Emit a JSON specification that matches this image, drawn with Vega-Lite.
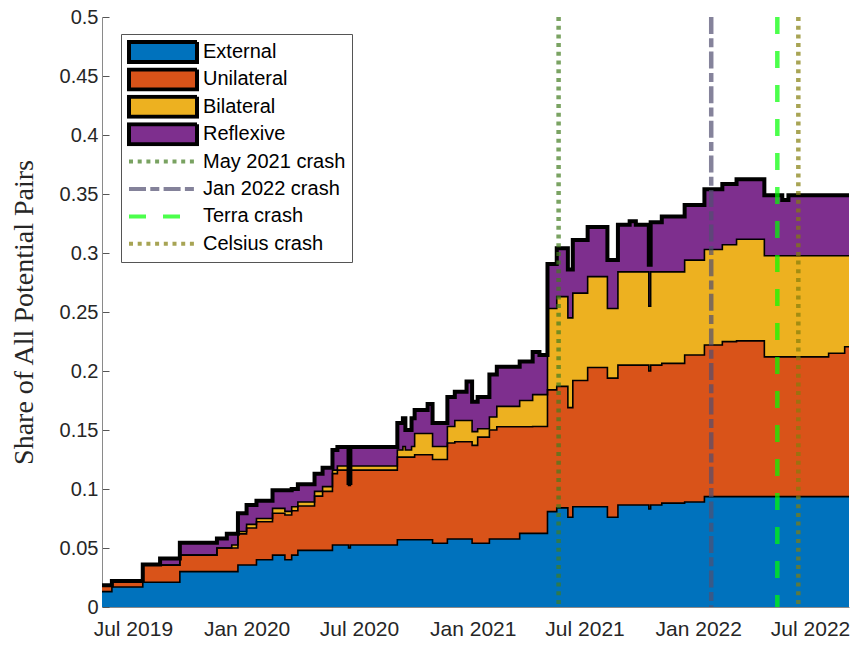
{
  "$schema": "https://vega.github.io/schema/vega-lite/v6.json",
  "width": 747,
  "height": 590,
  "autosize": {"type": "none"},
  "padding": {"left": 102, "top": 17, "right": 8, "bottom": 42},
  "background": "white",
  "config": {
    "view": {"stroke": null},
    "axis": {"grid": false, "labelFont": "Liberation Sans", "labelColor": "#262626", "domainColor": "#8a8a8a", "tickColor": "#555555", "labelOverlap": false, "labelFlush": false}
  },
  "datasets": {
    "shares": [
      {"d":"2019-05-12","s":"External","k":1,"v":0.013},{"d":"2019-05-12","s":"Unilateral","k":2,"v":0.0055},{"d":"2019-05-12","s":"Bilateral","k":3,"v":0},{"d":"2019-05-12","s":"Reflexive","k":4,"v":0},
      {"d":"2019-05-28","s":"External","k":1,"v":0.017},{"d":"2019-05-28","s":"Unilateral","k":2,"v":0.005},{"d":"2019-05-28","s":"Bilateral","k":3,"v":0},{"d":"2019-05-28","s":"Reflexive","k":4,"v":0},
      {"d":"2019-07-17","s":"External","k":1,"v":0.021},{"d":"2019-07-17","s":"Unilateral","k":2,"v":0.015},{"d":"2019-07-17","s":"Bilateral","k":3,"v":0},{"d":"2019-07-17","s":"Reflexive","k":4,"v":0},
      {"d":"2019-08-14","s":"External","k":1,"v":0.021},{"d":"2019-08-14","s":"Unilateral","k":2,"v":0.0145},{"d":"2019-08-14","s":"Bilateral","k":3,"v":0},{"d":"2019-08-14","s":"Reflexive","k":4,"v":0.0055},
      {"d":"2019-09-15","s":"External","k":1,"v":0.030},{"d":"2019-09-15","s":"Unilateral","k":2,"v":0.014},{"d":"2019-09-15","s":"Bilateral","k":3,"v":0},{"d":"2019-09-15","s":"Reflexive","k":4,"v":0.0105},
      {"d":"2019-11-14","s":"External","k":1,"v":0.030},{"d":"2019-11-14","s":"Unilateral","k":2,"v":0.020},{"d":"2019-11-14","s":"Bilateral","k":3,"v":0},{"d":"2019-11-14","s":"Reflexive","k":4,"v":0.008},
      {"d":"2019-11-30","s":"External","k":1,"v":0.030},{"d":"2019-11-30","s":"Unilateral","k":2,"v":0.020},{"d":"2019-11-30","s":"Bilateral","k":3,"v":0},{"d":"2019-11-30","s":"Reflexive","k":4,"v":0.012},
      {"d":"2019-12-08","s":"External","k":1,"v":0.030},{"d":"2019-12-08","s":"Unilateral","k":2,"v":0.020},{"d":"2019-12-08","s":"Bilateral","k":3,"v":0.0025},{"d":"2019-12-08","s":"Reflexive","k":4,"v":0.0095},
      {"d":"2019-12-18","s":"External","k":1,"v":0.0356},{"d":"2019-12-18","s":"Unilateral","k":2,"v":0.0264},{"d":"2019-12-18","s":"Bilateral","k":3,"v":0.002},{"d":"2019-12-18","s":"Reflexive","k":4,"v":0.0155},
      {"d":"2020-01-01","s":"External","k":1,"v":0.0356},{"d":"2020-01-01","s":"Unilateral","k":2,"v":0.0314},{"d":"2020-01-01","s":"Bilateral","k":3,"v":0.003},{"d":"2020-01-01","s":"Reflexive","k":4,"v":0.0164},
      {"d":"2020-01-17","s":"External","k":1,"v":0.040},{"d":"2020-01-17","s":"Unilateral","k":2,"v":0.0323},{"d":"2020-01-17","s":"Bilateral","k":3,"v":0.0027},{"d":"2020-01-17","s":"Reflexive","k":4,"v":0.015},
      {"d":"2020-02-12","s":"External","k":1,"v":0.044},{"d":"2020-02-12","s":"Unilateral","k":2,"v":0.0354},{"d":"2020-02-12","s":"Bilateral","k":3,"v":0.0042},{"d":"2020-02-12","s":"Reflexive","k":4,"v":0.0154},
      {"d":"2020-03-03","s":"External","k":1,"v":0.040},{"d":"2020-03-03","s":"Unilateral","k":2,"v":0.038},{"d":"2020-03-03","s":"Bilateral","k":3,"v":0.003},{"d":"2020-03-03","s":"Reflexive","k":4,"v":0.018},
      {"d":"2020-03-14","s":"External","k":1,"v":0.044},{"d":"2020-03-14","s":"Unilateral","k":2,"v":0.0376},{"d":"2020-03-14","s":"Bilateral","k":3,"v":0.0034},{"d":"2020-03-14","s":"Reflexive","k":4,"v":0.015},
      {"d":"2020-03-24","s":"External","k":1,"v":0.048},{"d":"2020-03-24","s":"Unilateral","k":2,"v":0.0376},{"d":"2020-03-24","s":"Bilateral","k":3,"v":0.0034},{"d":"2020-03-24","s":"Reflexive","k":4,"v":0.015},
      {"d":"2020-04-20","s":"External","k":1,"v":0.048},{"d":"2020-04-20","s":"Unilateral","k":2,"v":0.046},{"d":"2020-04-20","s":"Bilateral","k":3,"v":0.004},{"d":"2020-04-20","s":"Reflexive","k":4,"v":0.015},
      {"d":"2020-05-03","s":"External","k":1,"v":0.048},{"d":"2020-05-03","s":"Unilateral","k":2,"v":0.050},{"d":"2020-05-03","s":"Bilateral","k":3,"v":0.004},{"d":"2020-05-03","s":"Reflexive","k":4,"v":0.016},
      {"d":"2020-05-19","s":"External","k":1,"v":0.0525},{"d":"2020-05-19","s":"Unilateral","k":2,"v":0.0605},{"d":"2020-05-19","s":"Bilateral","k":3,"v":0.003},{"d":"2020-05-19","s":"Reflexive","k":4,"v":0.017},
      {"d":"2020-05-27","s":"External","k":1,"v":0.0525},{"d":"2020-05-27","s":"Unilateral","k":2,"v":0.0635},{"d":"2020-05-27","s":"Bilateral","k":3,"v":0.0035},{"d":"2020-05-27","s":"Reflexive","k":4,"v":0.0161},
      {"d":"2020-06-14","s":"External","k":1,"v":0.050},{"d":"2020-06-14","s":"Unilateral","k":2,"v":0.053},{"d":"2020-06-14","s":"Bilateral","k":3,"v":0.001},{"d":"2020-06-14","s":"Reflexive","k":4,"v":0.001},
      {"d":"2020-06-17","s":"External","k":1,"v":0.0525},{"d":"2020-06-17","s":"Unilateral","k":2,"v":0.0635},{"d":"2020-06-17","s":"Bilateral","k":3,"v":0.0035},{"d":"2020-06-17","s":"Reflexive","k":4,"v":0.0161},
      {"d":"2020-09-01","s":"External","k":1,"v":0.057},{"d":"2020-09-01","s":"Unilateral","k":2,"v":0.070},{"d":"2020-09-01","s":"Bilateral","k":3,"v":0.006},{"d":"2020-09-01","s":"Reflexive","k":4,"v":0.023},
      {"d":"2020-09-10","s":"External","k":1,"v":0.057},{"d":"2020-09-10","s":"Unilateral","k":2,"v":0.070},{"d":"2020-09-10","s":"Bilateral","k":3,"v":0.009},{"d":"2020-09-10","s":"Reflexive","k":4,"v":0.024},
      {"d":"2020-09-14","s":"External","k":1,"v":0.057},{"d":"2020-09-14","s":"Unilateral","k":2,"v":0.070},{"d":"2020-09-14","s":"Bilateral","k":3,"v":0.006},{"d":"2020-09-14","s":"Reflexive","k":4,"v":0.017},
      {"d":"2020-09-24","s":"External","k":1,"v":0.057},{"d":"2020-09-24","s":"Unilateral","k":2,"v":0.070},{"d":"2020-09-24","s":"Bilateral","k":3,"v":0.009},{"d":"2020-09-24","s":"Reflexive","k":4,"v":0.024},
      {"d":"2020-09-29","s":"External","k":1,"v":0.057},{"d":"2020-09-29","s":"Unilateral","k":2,"v":0.072},{"d":"2020-09-29","s":"Bilateral","k":3,"v":0.018},{"d":"2020-09-29","s":"Reflexive","k":4,"v":0.020},
      {"d":"2020-10-20","s":"External","k":1,"v":0.057},{"d":"2020-10-20","s":"Unilateral","k":2,"v":0.072},{"d":"2020-10-20","s":"Bilateral","k":3,"v":0.018},{"d":"2020-10-20","s":"Reflexive","k":4,"v":0.025},
      {"d":"2020-10-28","s":"External","k":1,"v":0.054},{"d":"2020-10-28","s":"Unilateral","k":2,"v":0.071},{"d":"2020-10-28","s":"Bilateral","k":3,"v":0.011},{"d":"2020-10-28","s":"Reflexive","k":4,"v":0.020},
      {"d":"2020-11-21","s":"External","k":1,"v":0.0576},{"d":"2020-11-21","s":"Unilateral","k":2,"v":0.0814},{"d":"2020-11-21","s":"Bilateral","k":3,"v":0.014},{"d":"2020-11-21","s":"Reflexive","k":4,"v":0.025},
      {"d":"2020-12-03","s":"External","k":1,"v":0.0576},{"d":"2020-12-03","s":"Unilateral","k":2,"v":0.0824},{"d":"2020-12-03","s":"Bilateral","k":3,"v":0.018},{"d":"2020-12-03","s":"Reflexive","k":4,"v":0.0245},
      {"d":"2020-12-22","s":"External","k":1,"v":0.0576},{"d":"2020-12-22","s":"Unilateral","k":2,"v":0.0824},{"d":"2020-12-22","s":"Bilateral","k":3,"v":0.018},{"d":"2020-12-22","s":"Reflexive","k":4,"v":0.033},
      {"d":"2020-12-31","s":"External","k":1,"v":0.054},{"d":"2020-12-31","s":"Unilateral","k":2,"v":0.083},{"d":"2020-12-31","s":"Bilateral","k":3,"v":0.0116},{"d":"2020-12-31","s":"Reflexive","k":4,"v":0.0254},
      {"d":"2021-01-09","s":"External","k":1,"v":0.054},{"d":"2021-01-09","s":"Unilateral","k":2,"v":0.090},{"d":"2021-01-09","s":"Bilateral","k":3,"v":0.007},{"d":"2021-01-09","s":"Reflexive","k":4,"v":0.027},
      {"d":"2021-01-28","s":"External","k":1,"v":0.0576},{"d":"2021-01-28","s":"Unilateral","k":2,"v":0.0924},{"d":"2021-01-28","s":"Bilateral","k":3,"v":0.011},{"d":"2021-01-28","s":"Reflexive","k":4,"v":0.036},
      {"d":"2021-02-09","s":"External","k":1,"v":0.0576},{"d":"2021-02-09","s":"Unilateral","k":2,"v":0.0952},{"d":"2021-02-09","s":"Bilateral","k":3,"v":0.0172},{"d":"2021-02-09","s":"Reflexive","k":4,"v":0.0336},
      {"d":"2021-03-18","s":"External","k":1,"v":0.0624},{"d":"2021-03-18","s":"Unilateral","k":2,"v":0.0904},{"d":"2021-03-18","s":"Bilateral","k":3,"v":0.0222},{"d":"2021-03-18","s":"Reflexive","k":4,"v":0.033},
      {"d":"2021-04-08","s":"External","k":1,"v":0.0624},{"d":"2021-04-08","s":"Unilateral","k":2,"v":0.0906},{"d":"2021-04-08","s":"Bilateral","k":3,"v":0.027},{"d":"2021-04-08","s":"Reflexive","k":4,"v":0.036},
      {"d":"2021-04-19","s":"External","k":1,"v":0.0624},{"d":"2021-04-19","s":"Unilateral","k":2,"v":0.0906},{"d":"2021-04-19","s":"Bilateral","k":3,"v":0.027},{"d":"2021-04-19","s":"Reflexive","k":4,"v":0.0336},
      {"d":"2021-05-02","s":"External","k":1,"v":0.0808},{"d":"2021-05-02","s":"Unilateral","k":2,"v":0.1032},{"d":"2021-05-02","s":"Bilateral","k":3,"v":0.069},{"d":"2021-05-02","s":"Reflexive","k":4,"v":0.0377},
      {"d":"2021-05-17","s":"External","k":1,"v":0.084},{"d":"2021-05-17","s":"Unilateral","k":2,"v":0.103},{"d":"2021-05-17","s":"Bilateral","k":3,"v":0.076},{"d":"2021-05-17","s":"Reflexive","k":4,"v":0.041},
      {"d":"2021-06-04","s":"External","k":1,"v":0.076},{"d":"2021-06-04","s":"Unilateral","k":2,"v":0.093},{"d":"2021-06-04","s":"Bilateral","k":3,"v":0.076},{"d":"2021-06-04","s":"Reflexive","k":4,"v":0.041},
      {"d":"2021-06-12","s":"External","k":1,"v":0.085},{"d":"2021-06-12","s":"Unilateral","k":2,"v":0.107},{"d":"2021-06-12","s":"Bilateral","k":3,"v":0.074},{"d":"2021-06-12","s":"Reflexive","k":4,"v":0.045},
      {"d":"2021-07-06","s":"External","k":1,"v":0.085},{"d":"2021-07-06","s":"Unilateral","k":2,"v":0.118},{"d":"2021-07-06","s":"Bilateral","k":3,"v":0.077},{"d":"2021-07-06","s":"Reflexive","k":4,"v":0.042},
      {"d":"2021-08-07","s":"External","k":1,"v":0.076},{"d":"2021-08-07","s":"Unilateral","k":2,"v":0.118},{"d":"2021-08-07","s":"Bilateral","k":3,"v":0.059},{"d":"2021-08-07","s":"Reflexive","k":4,"v":0.041},
      {"d":"2021-08-24","s":"External","k":1,"v":0.0864},{"d":"2021-08-24","s":"Unilateral","k":2,"v":0.1186},{"d":"2021-08-24","s":"Bilateral","k":3,"v":0.079},{"d":"2021-08-24","s":"Reflexive","k":4,"v":0.040},
      {"d":"2021-09-12","s":"External","k":1,"v":0.0864},{"d":"2021-09-12","s":"Unilateral","k":2,"v":0.1186},{"d":"2021-09-12","s":"Bilateral","k":3,"v":0.079},{"d":"2021-09-12","s":"Reflexive","k":4,"v":0.043},
      {"d":"2021-09-22","s":"External","k":1,"v":0.0864},{"d":"2021-09-22","s":"Unilateral","k":2,"v":0.1186},{"d":"2021-09-22","s":"Bilateral","k":3,"v":0.079},{"d":"2021-09-22","s":"Reflexive","k":4,"v":0.040},
      {"d":"2021-10-13","s":"External","k":1,"v":0.083},{"d":"2021-10-13","s":"Unilateral","k":2,"v":0.117},{"d":"2021-10-13","s":"Bilateral","k":3,"v":0.055},{"d":"2021-10-13","s":"Reflexive","k":4,"v":0.035},
      {"d":"2021-10-16","s":"External","k":1,"v":0.0864},{"d":"2021-10-16","s":"Unilateral","k":2,"v":0.1186},{"d":"2021-10-16","s":"Bilateral","k":3,"v":0.079},{"d":"2021-10-16","s":"Reflexive","k":4,"v":0.042},
      {"d":"2021-11-03","s":"External","k":1,"v":0.088},{"d":"2021-11-03","s":"Unilateral","k":2,"v":0.1185},{"d":"2021-11-03","s":"Bilateral","k":3,"v":0.0775},{"d":"2021-11-03","s":"Reflexive","k":4,"v":0.047},
      {"d":"2021-12-10","s":"External","k":1,"v":0.089},{"d":"2021-12-10","s":"Unilateral","k":2,"v":0.1245},{"d":"2021-12-10","s":"Bilateral","k":3,"v":0.0805},{"d":"2021-12-10","s":"Reflexive","k":4,"v":0.0467},
      {"d":"2022-01-11","s":"External","k":1,"v":0.0935},{"d":"2022-01-11","s":"Unilateral","k":2,"v":0.1285},{"d":"2022-01-11","s":"Bilateral","k":3,"v":0.081},{"d":"2022-01-11","s":"Reflexive","k":4,"v":0.051},
      {"d":"2022-02-09","s":"External","k":1,"v":0.0935},{"d":"2022-02-09","s":"Unilateral","k":2,"v":0.1314},{"d":"2022-02-09","s":"Bilateral","k":3,"v":0.0821},{"d":"2022-02-09","s":"Reflexive","k":4,"v":0.0515},
      {"d":"2022-03-04","s":"External","k":1,"v":0.0935},{"d":"2022-03-04","s":"Unilateral","k":2,"v":0.132},{"d":"2022-03-04","s":"Bilateral","k":3,"v":0.0861},{"d":"2022-03-04","s":"Reflexive","k":4,"v":0.0508},
      {"d":"2022-04-18","s":"External","k":1,"v":0.0935},{"d":"2022-04-18","s":"Unilateral","k":2,"v":0.1185},{"d":"2022-04-18","s":"Bilateral","k":3,"v":0.0857},{"d":"2022-04-18","s":"Reflexive","k":4,"v":0.0513},
      {"d":"2022-05-17","s":"External","k":1,"v":0.0935},{"d":"2022-05-17","s":"Unilateral","k":2,"v":0.1185},{"d":"2022-05-17","s":"Bilateral","k":3,"v":0.0857},{"d":"2022-05-17","s":"Reflexive","k":4,"v":0.0473},
      {"d":"2022-05-27","s":"External","k":1,"v":0.0935},{"d":"2022-05-27","s":"Unilateral","k":2,"v":0.1185},{"d":"2022-05-27","s":"Bilateral","k":3,"v":0.0857},{"d":"2022-05-27","s":"Reflexive","k":4,"v":0.0513},
      {"d":"2022-07-31","s":"External","k":1,"v":0.0935},{"d":"2022-07-31","s":"Unilateral","k":2,"v":0.1215},{"d":"2022-07-31","s":"Bilateral","k":3,"v":0.0827},{"d":"2022-07-31","s":"Reflexive","k":4,"v":0.0513},
      {"d":"2022-08-26","s":"External","k":1,"v":0.0935},{"d":"2022-08-26","s":"Unilateral","k":2,"v":0.127},{"d":"2022-08-26","s":"Bilateral","k":3,"v":0.0772},{"d":"2022-08-26","s":"Reflexive","k":4,"v":0.0513},
      {"d":"2022-09-02","s":"External","k":1,"v":0.0935},{"d":"2022-09-02","s":"Unilateral","k":2,"v":0.127},{"d":"2022-09-02","s":"Bilateral","k":3,"v":0.0772},{"d":"2022-09-02","s":"Reflexive","k":4,"v":0.0513}
    ],
    "crashes": [
      {"d":"2021-05-20","s":"May 2021 crash"},
      {"d":"2022-01-22","s":"Jan 2022 crash"},
      {"d":"2022-05-09","s":"Terra crash"},
      {"d":"2022-06-12","s":"Celsius crash"}
    ]
  },
  "layer": [
    {
      "data": {"name": "shares"},
      "mark": {"type": "area", "interpolate": "step-after"},
      "encoding": {
        "x": {
          "field": "d", "type": "temporal",
          "scale": {"type": "utc", "domain": [{"year": 2019, "month": 5, "date": 12, "utc": true}, {"year": 2022, "month": 9, "date": 2, "utc": true}]},
          "axis": {
            "title": null,
            "values": [
              {"year": 2019, "month": 7, "date": 1, "utc": true},
              {"year": 2020, "month": 1, "date": 1, "utc": true},
              {"year": 2020, "month": 7, "date": 1, "utc": true},
              {"year": 2021, "month": 1, "date": 1, "utc": true},
              {"year": 2021, "month": 7, "date": 1, "utc": true},
              {"year": 2022, "month": 1, "date": 1, "utc": true},
              {"year": 2022, "month": 7, "date": 1, "utc": true}
            ],
            "format": "%b %Y", "labelFontSize": 21, "ticks": false, "labelPadding": 11
          }
        },
        "y": {
          "field": "v", "type": "quantitative", "stack": "zero",
          "scale": {"domain": [0, 0.5], "nice": false},
          "axis": {
            "title": "Share of All Potential Pairs",
            "values": [0, 0.05, 0.1, 0.15, 0.2, 0.25, 0.3, 0.35, 0.4, 0.45, 0.5],
            "format": "~g", "labelFontSize": 20, "tickSize": -7, "labelPadding": 11,
            "titleFont": "Liberation Serif", "titleFontSize": 28, "titleFontWeight": "normal", "titleColor": "#262626", "titlePadding": 21
          }
        },
        "color": {
          "field": "s", "type": "nominal",
          "scale": {
            "domain": ["May 2021 crash", "Jan 2022 crash", "Terra crash", "Celsius crash", "External", "Unilateral", "Bilateral", "Reflexive"],
            "range": ["#417c1f", "#514e70", "#00ff00", "#837e0c", "#0072BD", "#D95319", "#EDB120", "#7E2F8E"]
          },
          "legend": null
        },
        "order": {"field": "k", "type": "quantitative"}
      }
    },
    {
      "data": {"name": "shares"},
      "transform": [{"stack": "v", "groupby": ["d"], "sort": [{"field": "k", "order": "ascending"}], "as": ["v0", "v1"]}],
      "mark": {"type": "line", "interpolate": "step-after", "color": "black", "strokeWidth": 1.6},
      "encoding": {
        "x": {"field": "d", "type": "temporal"},
        "y": {"field": "v1", "type": "quantitative", "title": "Share of All Potential Pairs"},
        "detail": {"field": "s", "type": "nominal"}
      }
    },
    {
      "data": {"name": "shares"},
      "transform": [{"aggregate": [{"op": "sum", "field": "v", "as": "t"}], "groupby": ["d"]}],
      "mark": {"type": "line", "interpolate": "step-after", "color": "black", "strokeWidth": 4},
      "encoding": {
        "x": {"field": "d", "type": "temporal"},
        "y": {"field": "t", "type": "quantitative", "title": "Share of All Potential Pairs"}
      }
    },
    {
      "data": {"name": "crashes"},
      "mark": {"type": "rule", "strokeWidth": 4.5, "opacity": 0.7},
      "encoding": {
        "x": {"field": "d", "type": "temporal"},
        "color": {"field": "s", "type": "nominal", "legend": null},
        "strokeDash": {
          "field": "s", "type": "nominal",
          "scale": {
            "domain": ["External", "Unilateral", "Bilateral", "Reflexive", "May 2021 crash", "Jan 2022 crash", "Terra crash", "Celsius crash"],
            "range": [[1, 0], [1, 0], [1, 0], [1, 0], [4, 4.7], [17, 4.3, 9, 4.3], [17, 17], [4, 4.7]]
          },
          "legend": {
            "title": null, "orient": "none", "legendX": 19, "legendY": 17, "direction": "vertical",
            "padding": 6, "strokeColor": "#555555", "fillColor": "white",
            "symbolSize": 4624, "clipHeight": 24, "rowPadding": 3.4, "labelOffset": 4,
            "labelFont": "Liberation Sans", "labelFontSize": 20, "labelColor": "black", "labelLimit": 400,
            "symbolStrokeWidth": 4,
            "symbolType": {"expr": "indexof(['External','Unilateral','Bilateral','Reflexive'], datum.value) >= 0 ? 'M-1,-0.294H1V0.294H-1Z' : 'stroke'"},
            "symbolFillColor": {"expr": "indexof(['External','Unilateral','Bilateral','Reflexive'], datum.value) >= 0 ? scale('color', datum.value) : 'transparent'"},
            "symbolStrokeColor": {"expr": "indexof(['External','Unilateral','Bilateral','Reflexive'], datum.value) >= 0 ? 'black' : scale('color', datum.value)"},
            "symbolOpacity": {"expr": "indexof(['External','Unilateral','Bilateral','Reflexive'], datum.value) >= 0 ? 1 : 0.7"}
          }
        }
      }
    }
  ]
}
